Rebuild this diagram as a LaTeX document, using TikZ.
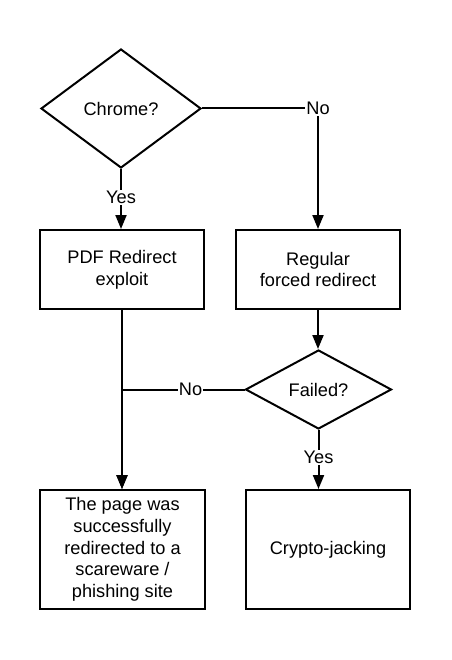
\documentclass[tikz,border=0pt]{standalone}
\usepackage{fontspec}
\setmainfont{Liberation Sans}
\usetikzlibrary{shapes.geometric,arrows.meta}
\tikzset{
  every node/.style={font=\fontsize{18.2}{21.75}\selectfont, align=center},
  box/.style={draw, line width=2pt, rectangle, inner sep=0pt},
  decision/.style={draw, line width=2pt, diamond, inner sep=0pt},
  conn/.style={line width=2pt},
  arr/.style={conn, -{Triangle[length=14pt,width=11pt]}},
  lbl/.style={fill=white, inner sep=1pt}
}
\begin{document}
\begin{tikzpicture}[x=1pt,y=-1pt]
\useasboundingbox (0,0) rectangle (451,660);
\node[decision, minimum width=160pt, minimum height=119pt] (chrome) at (121,108.5) {Chrome?};
\node[box, minimum width=164pt, minimum height=79pt] (pdf) at (122,269.5) {PDF Redirect\\exploit};
\node[box, minimum width=164pt, minimum height=79pt] (reg) at (318,269.5) {Regular\\forced redirect};
\node[decision, minimum width=146pt, minimum height=79pt] (failed) at (318.5,389.5) {Failed?};
\node[box, minimum width=165pt, minimum height=119pt] (page) at (122.5,549.5) {The page was\\successfully\\redirected to a\\scareware /\\phishing site};
\node[box, minimum width=164pt, minimum height=119pt] (crypto) at (328,549.5) {Crypto-jacking};

\draw[arr] (chrome.east) -| node[lbl, pos=0.5] {No} (reg.north);
\draw[arr] (chrome.south) -- node[lbl, pos=0.47] {Yes} (chrome.south |- pdf.north);
\draw[arr] (reg.south) -- (reg.south |- failed.north);
\draw[arr] (pdf.south) -- (pdf.south |- page.north);
\draw[arr] (failed.west) -| node[lbl, pos=0.22] {No} (pdf.south |- page.north);
\draw[arr] (failed.south) -- node[lbl, pos=0.47] {Yes} (failed.south |- crypto.north);
\end{tikzpicture}
\end{document}
